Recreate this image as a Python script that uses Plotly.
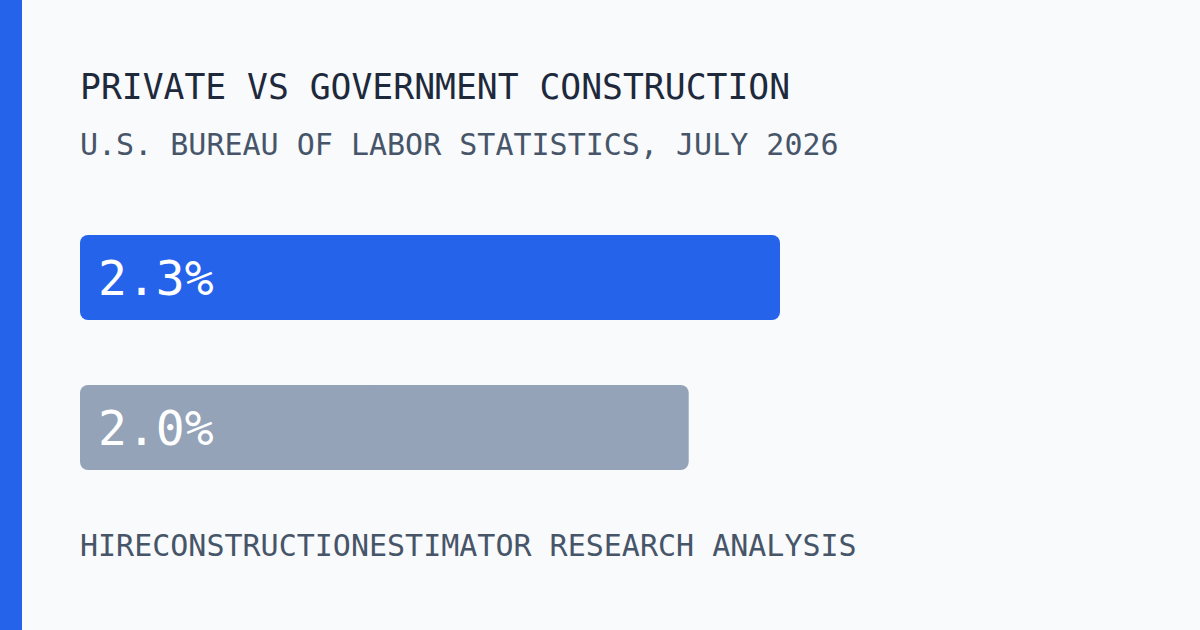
import plotly.graph_objects as go

# Data
categories = ["Private", "Government"]
values = [2.3, 2.0]
bar_colors = ["#2563EB", "#94A3B8"]
title_text = "PRIVATE VS GOVERNMENT CONSTRUCTION"
subtitle_text = "U.S. BUREAU OF LABOR STATISTICS, JULY 2026"
footer_text = "HIRECONSTRUCTIONESTIMATOR RESEARCH ANALYSIS"

W, H = 1200, 630
FONT = "DejaVu Sans Mono"
BAR_W = 85 / 150

fig = go.Figure()
# Each bar drawn as two overlapping halves so that both ends get rounded corners
mid = [v / 2 for v in values]
fig.add_trace(go.Bar(  # left half: runs from middle back to 0 (rounded at 0)
    x=[-(m * 1.05) for m in mid], base=[m * 1.05 for m in mid],
    y=categories, orientation="h",
    marker=dict(color=bar_colors, line=dict(width=0)),
    width=BAR_W, hoverinfo="skip",
))
fig.add_trace(go.Bar(  # right half: runs from middle to value (rounded at value)
    x=[v - m * 0.95 for v, m in zip(values, mid)], base=[m * 0.95 for m in mid],
    y=categories, orientation="h",
    marker=dict(color=bar_colors, line=dict(width=0)),
    width=BAR_W, hoverinfo="skip",
))

for c, v in zip(categories, values):
    fig.add_annotation(
        x=0, y=c, xref="x", yref="y",
        text=f"{v:.1f}%", showarrow=False,
        xanchor="left", yanchor="middle", xshift=16,
        font=dict(family=FONT, size=48, color="#FFFFFF"),
    )

# x: 0 -> px 80, 2.3 -> px 780
span = 2.3 * W / 700
x0 = -80 / W * span
# y: category 0 center at px 277.5, 150px per category
y_top = -277.5 / 150
y_bottom = (H - 277.5) / 150

fig.update_layout(
    width=W, height=H,
    margin=dict(l=0, r=0, t=0, b=0),
    paper_bgcolor="#F8FAFC",
    plot_bgcolor="#F8FAFC",
    showlegend=False,
    barmode="overlay",
    barcornerradius=8,
    xaxis=dict(range=[x0, x0 + span], visible=False, fixedrange=True),
    yaxis=dict(type="category", range=[y_bottom, y_top], visible=False, fixedrange=True),
    shapes=[dict(type="rect", xref="paper", yref="paper", x0=0, x1=22 / W, y0=0, y1=1,
                 fillcolor="#2563EB", line=dict(width=0), layer="above")],
)

def label(text, ypx, size, color):
    fig.add_annotation(
        x=78 / W, y=1 - ypx / H, xref="paper", yref="paper",
        text=text, showarrow=False, xanchor="left", yanchor="middle",
        font=dict(family=FONT, size=size, color=color),
    )

label(title_text, 87, 34.7, "#1E293B")
label(subtitle_text, 145, 30, "#475569")
label(footer_text, 545, 30, "#475569")

fig.write_html(
    "out.html",
    config={"displayModeBar": False},
    post_script="document.body.style.margin='0';document.body.style.background='#F8FAFC';",
)
